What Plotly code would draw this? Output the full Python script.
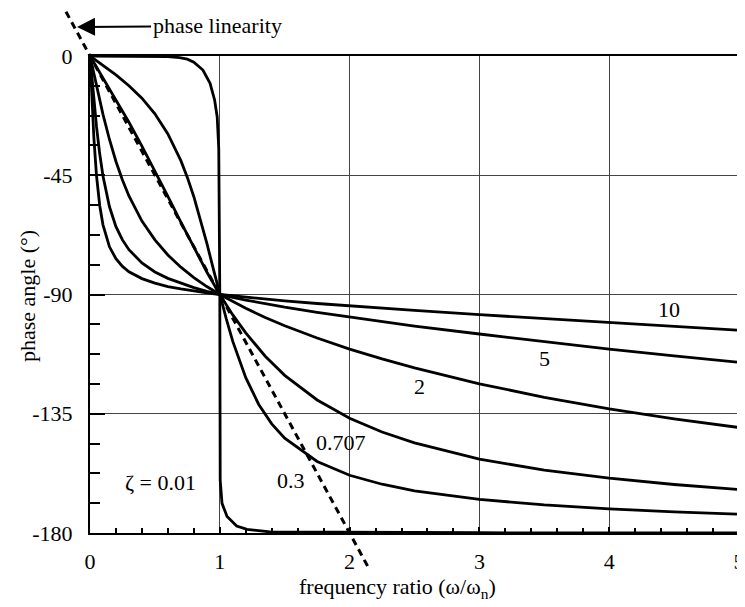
import plotly.graph_objects as go

# ---- data: phase angle (deg) vs frequency ratio ----
r_high = [0, 0.01, 0.02, 0.03, 0.05, 0.075, 0.1, 0.15, 0.2, 0.25, 0.3, 0.4, 0.5, 0.6, 0.7, 0.8, 0.9,
          1.0, 1.1, 1.2, 1.35, 1.5, 1.75, 2.0, 2.25, 2.5, 3.0, 3.5, 4.0, 4.5, 5.0]
phase_z10 = [0, -11.3, -21.8, -31.0, -45.1, -56.5, -63.7, -72.0, -76.5, -79.4, -81.4, -84.0, -85.7, -87.0,
             -87.9, -88.7, -89.4, -90, -90.5, -91.1, -91.7, -92.4, -93.4, -94.3, -95.2, -96.0, -97.6,
             -99.1, -100.6, -102.1, -103.5]
phase_z5 = [0, -5.7, -11.3, -16.7, -26.6, -37.0, -45.3, -56.9, -64.4, -69.4, -73.1, -78.1, -81.5, -83.9,
            -85.8, -87.4, -88.8, -90, -91.1, -92.1, -93.5, -94.8, -96.7, -98.5, -100.2, -101.9, -104.9,
            -107.8, -110.6, -113.2, -115.6]
phase_z2 = [0, -2.3, -4.6, -6.9, -11.3, -16.8, -22.0, -31.5, -39.8, -46.8, -52.8, -62.3, -69.4, -75.1,
            -79.7, -83.6, -87.0, -90, -92.7, -95.2, -98.7, -101.8, -106.4, -110.6, -114.3, -117.7, -123.7,
            -128.8, -133.2, -136.9, -140.2]

r_z0707 = [0, 0.05, 0.1, 0.2, 0.25, 0.3, 0.4, 0.5, 0.6, 0.7, 0.8, 0.9, 1.0,
           1.1, 1.2, 1.35, 1.5, 1.75, 2.0, 2.25, 2.5, 3.0, 3.5, 4.0, 4.5, 5.0]
phase_z0707 = [0, -4.1, -8.1, -16.4, -20.7, -25.0, -34.0, -43.3, -53.0, -62.7, -72.3, -81.5, -90,
               -97.7, -104.5, -113.3, -120.5, -129.8, -136.7, -141.9, -146.0, -152.1, -156.3, -159.3,
               -161.7, -163.6]

r_z03 = [0, 0.1, 0.2, 0.3, 0.4, 0.5, 0.6, 0.7, 0.75, 0.8, 0.85, 0.9, 0.95, 1.0,
         1.05, 1.1, 1.2, 1.3, 1.4, 1.5, 1.75, 2.0, 2.25, 2.5, 3.0, 3.5, 4.0, 4.5, 5.0]
phase_z03 = [0, -3.5, -7.1, -11.2, -15.9, -21.8, -29.4, -39.5, -45.8, -53.1, -61.4, -70.6, -80.3, -90,
             -99.2, -107.7, -121.4, -131.5, -138.8, -144.2, -153.0, -158.2, -161.6, -164.1, -167.3,
             -169.4, -170.9, -172.0, -172.9]

r_z001 = [0, 0.6, 0.69, 0.75, 0.8, 0.87, 0.925, 0.96, 0.98, 0.992, 1.0,
          1.003, 1.017, 1.056, 1.13, 1.21, 1.39, 2.0, 3.0, 4.0, 5.0]
phase_z001 = [0, -0.2, -0.6, -1.2, -2.3, -5.3, -10.3, -16.6, -23.0, -35.0, -90,
              -160, -168.8, -173.8, -177.4, -178.6, -179.6, -179.8, -179.9, -180, -180]

# phase linearity reference line (dashed)
lin_r = [-0.185, 2.15]
lin_phase = [16.7, -193.5]

# curve labels
label_text = ["10", "5", "2", "0.707", "0.3", "ζ = 0.01"]
label_r = [4.46, 3.505, 2.54, 1.93, 1.55, 0.54]
label_phase = [-95.5, -114.3, -124.9, -146.0, -160.0, -160.8]

x_tick_vals = [0, 1, 2, 3, 4, 5]
x_tick_text = ["0", "1", "2", "3", "4", "5"]
y_tick_vals = [0, -45, -90, -135, -180]
y_tick_text = ["0", "-45", "-90", "-135", "-180"]

# ---- figure geometry (screen pixels; page body adds an 8px offset) ----
OFF = 8
W, H = 745 - OFF, 607 - OFF
X0, X1 = 90 - OFF, 739 - OFF      # r=0 and r=5
Y0, Y1 = 56 - OFF, 533 - OFF      # 0 deg and -180 deg
sx = (X1 - X0) / 5.0
sy = (Y1 - Y0) / 180.0


def px(x):
    return (x - OFF) / W


def py(y):
    return 1 - (y - OFF) / H


FONT = "Liberation Serif"
fig = go.Figure()

curves = [(r_high, phase_z10), (r_high, phase_z5), (r_high, phase_z2),
          (r_z0707, phase_z0707), (r_z03, phase_z03), (r_z001, phase_z001)]
for rx, ph in curves:
    fig.add_trace(go.Scatter(x=rx, y=ph, mode="lines", line=dict(color="black", width=2.8),
                             xaxis="x", yaxis="y", hoverinfo="skip", showlegend=False))

fig.add_trace(go.Scatter(x=lin_r, y=lin_phase, mode="lines",
                         line=dict(color="black", width=3, dash="7px,5px"),
                         xaxis="x3", yaxis="y3", hoverinfo="skip", showlegend=False))

xdom = [X0 / W, X1 / W]
ydom = [1 - Y1 / H, 1 - Y0 / H]

fig.update_layout(
    width=W, height=H, template="none",
    margin=dict(l=0, r=0, t=0, b=0),
    paper_bgcolor="white", plot_bgcolor="rgba(0,0,0,0)",
    font=dict(family=FONT, size=22, color="black"),
    showlegend=False,
    xaxis=dict(domain=xdom, anchor="y", range=[0, 5], tickmode="array",
               tickvals=x_tick_vals, ticktext=x_tick_text,
               ticks="inside", ticklen=6, tickwidth=2, tickcolor="black",
               ticklabelstandoff=8,
               showgrid=True, gridcolor="#444", gridwidth=1,
               showline=True, linecolor="black", linewidth=2, mirror=True,
               zeroline=False, automargin=False,
               minor=dict(tick0=0, dtick=0.2, ticks="inside", ticklen=5, tickwidth=2,
                          tickcolor="black", showgrid=False)),
    xaxis2=dict(overlaying="x", anchor="y", range=[0, 5], tickmode="array",
                tickvals=x_tick_vals, ticks="outside", ticklen=14, tickwidth=2, tickcolor="black",
                showticklabels=False, showgrid=False, zeroline=False,
                showline=True, linecolor="black", linewidth=3, automargin=False,
                minor=dict(tick0=0, dtick=0.2, ticks="outside", ticklen=5, tickwidth=2,
                           tickcolor="black", showgrid=False)),
    yaxis=dict(domain=ydom, anchor="x", range=[-180, 0], tickmode="array",
               tickvals=y_tick_vals, ticktext=y_tick_text,
               ticks="inside", ticklen=15, tickwidth=2, tickcolor="black",
               ticklabelstandoff=11,
               showgrid=True, gridcolor="#444", gridwidth=1,
               showline=True, linecolor="black", linewidth=2, mirror=True,
               zeroline=False, automargin=False,
               minor=dict(tick0=0, dtick=11.25, ticks="inside", ticklen=10, tickwidth=2,
                          tickcolor="black", showgrid=False)),
    yaxis2=dict(overlaying="y", anchor="x", range=[-180, 0], tickmode="array",
                tickvals=y_tick_vals, ticks="outside", ticklen=8, tickwidth=2, tickcolor="black",
                showticklabels=False, showgrid=False, zeroline=False, showline=False,
                automargin=False,
                minor=dict(tick0=0, dtick=11.25, ticks="outside", ticklen=3, tickwidth=2,
                           tickcolor="black", showgrid=False)),
    xaxis3=dict(domain=[0, 1], anchor="y3", range=[-X0 / sx, 5 + (W - X1) / sx], visible=False),
    yaxis3=dict(domain=[0, 1], anchor="x3", range=[-180 - (H - Y1) / sy, Y0 / sy], visible=False),
)

annotations = []
for t, rx, ph in zip(label_text, label_r, label_phase):
    annotations.append(dict(x=rx, y=ph, xref="x", yref="y", text=t, showarrow=False,
                            xanchor="center", yanchor="middle",
                            font=dict(family=FONT, size=22, color="black")))

annotations.append(dict(x=px(77), y=py(27), xref="paper", yref="paper",
                        text="phase linearity", showarrow=True, ax=140, ay=-1,
                        arrowhead=2, arrowsize=1.8, arrowwidth=2, arrowcolor="black",
                        font=dict(family=FONT, size=22, color="black")))
annotations.append(dict(x=px(27), y=py(296), xref="paper", yref="paper",
                        text="phase angle (°)", textangle=-90, showarrow=False,
                        xanchor="center", yanchor="middle",
                        font=dict(family=FONT, size=22, color="black")))
annotations.append(dict(x=px(397), y=py(588), xref="paper", yref="paper",
                        text="frequency ratio (ω/ω<sub>n</sub>)", showarrow=False,
                        xanchor="center", yanchor="middle",
                        font=dict(family=FONT, size=22, color="black")))
fig.update_layout(annotations=annotations)

fig.write_html("out.html")
